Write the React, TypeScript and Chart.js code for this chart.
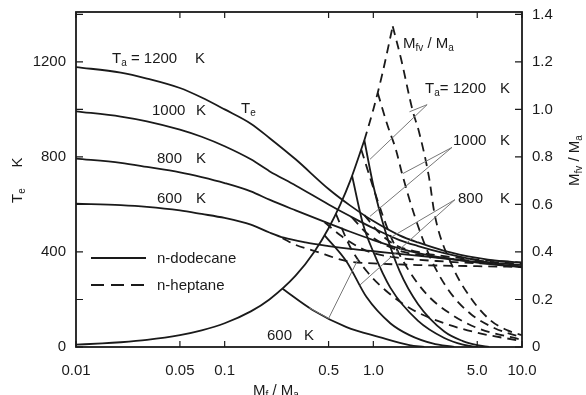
import React, { useEffect, useRef } from "react";
import { Chart, registerables } from "chart.js";
Chart.register(...registerables);

// ---- axes ----
const xTickValues = [0.01, 0.05, 0.1, 0.5, 1, 5, 10];
const xTickLabels = ["0.01", "0.05", "0.1", "0.5", "1.0", "5.0", "10.0"];
const teMarks = [0, 200, 400, 600, 800, 1000, 1200, 1400];
const teLabels = [0, 400, 800, 1200];
const mfvMarks = [0, 0.2, 0.4, 0.6, 0.8, 1.0, 1.2, 1.4];

// ---- Te, n-dodecane (solid) ----
const teDod1200 = [[0.01,1178],[0.02,1155],[0.03,1130],[0.05,1090],[0.07,1050],[0.1,1000],[0.15,940],[0.2,880],[0.3,790],[0.5,665],[0.7,595],[1,530],[1.5,470],[2,440],[3,405],[5,375],[7,362],[10,355]];
const teDod1000 = [[0.01,992],[0.02,970],[0.03,950],[0.05,915],[0.07,885],[0.1,845],[0.15,790],[0.2,740],[0.3,680],[0.5,600],[0.7,550],[1,500],[1.5,450],[2,425],[3,395],[5,365],[7,352],[10,345]];
const teDod800 = [[0.01,793],[0.02,775],[0.03,758],[0.05,735],[0.07,715],[0.1,690],[0.15,655],[0.2,620],[0.3,575],[0.5,520],[0.7,485],[1,450],[1.5,415],[2,395],[3,375],[5,355],[7,345],[10,338]];
const teDod600 = [[0.01,603],[0.02,597],[0.03,590],[0.05,575],[0.07,560],[0.1,543],[0.15,515],[0.2,482],[0.25,460],[0.35,440],[0.5,425],[0.7,413],[1,403],[1.75,388],[3,372],[5,357],[10,335]];

// ---- Te, n-heptane (dashed branches) ----
const teHep1200 = [[0.87,555],[1.1,480],[1.4,430],[2,400],[3,382],[5,368],[10,355]];
const teHep1000 = [[0.72,545],[0.9,480],[1.2,430],[1.6,400],[2.5,380],[5,362],[10,350]];
const teHep800 = [[0.47,525],[0.6,470],[0.8,420],[1,395],[1.5,375],[3,360],[10,345]];
const teHep600 = [[0.245,458],[0.3,430],[0.4,405],[0.66,362],[1,352],[2,345],[5,340],[10,337]];

// ---- Mfv/Ma: common rising branch (all fuel evaporated) ----
const mfvRiseSolid = [[0.01,0.01],[0.015,0.015],[0.02,0.02],[0.03,0.03],[0.05,0.05],[0.07,0.07],[0.1,0.1],[0.15,0.15],[0.2,0.2],[0.3,0.3],[0.4,0.4],[0.5,0.5],[0.6,0.6],[0.7,0.7],[0.87,0.87]];
const mfvRiseDashed = [[0.87,0.87],[1,1],[1.15,1.15],[1.35,1.35]];

// ---- Mfv/Ma, n-dodecane (solid) ----
const mfvDod1200 = [[0.87,0.87],[1,0.68],[1.2,0.49],[1.5,0.32],[2,0.18],[3,0.065],[4,0.025],[5,0.008],[6,0]];
const mfvDod1000 = [[0.72,0.72],[0.85,0.52],[1,0.4],[1.3,0.25],[2,0.11],[3,0.038],[4,0.01],[5,0]];
const mfvDod800 = [[0.47,0.47],[0.66,0.36],[0.9,0.21],[1.3,0.1],[1.75,0.05],[2.5,0.015],[3.5,0]];
const mfvDod600 = [[0.245,0.245],[0.39,0.156],[0.66,0.084],[1.1,0.042],[1.75,0.008],[2.2,0]];

// ---- Mfv/Ma, n-heptane (dashed) ----
const mfvHep1200 = [[1.35,1.35],[1.54,1.21],[1.83,1.0],[2.04,0.9],[2.36,0.72],[2.6,0.55],[3.4,0.34],[4.6,0.2],[6.2,0.11],[8,0.07],[10,0.05]];
const mfvHep1000 = [[1.07,1.07],[1.25,0.93],[1.42,0.83],[1.56,0.73],[1.9,0.55],[2.4,0.38],[3.2,0.24],[4.5,0.14],[6.5,0.08],[10,0.04]];
const mfvHep800 = [[0.83,0.83],[1.05,0.63],[1.3,0.47],[1.7,0.33],[2.3,0.22],[3.3,0.14],[5,0.08],[10,0.03]];
const mfvHep600 = [[0.56,0.56],[0.7,0.42],[0.9,0.32],[1.2,0.24],[1.8,0.16],[3,0.1],[5,0.06],[10,0.025]];

// ---- leader lines (x, Mfv/Ma) ----
const leaders = [
  [[2.3,1.02],[0.95,0.79]],
  [[2.3,1.02],[1.75,0.99]],
  [[3.38,0.84],[1.58,0.73]],
  [[3.38,0.84],[0.95,0.55]],
  [[3.54,0.62],[1.3,0.46]],
  [[3.54,0.62],[0.81,0.26]],
  [[0.5,0.12],[0.79,0.37]],
  [[0.5,0.12],[0.37,0.165]],
];

const FONT = "'Liberation Sans', Arial, sans-serif";
const INK = "#1a1a1a";

type Part = { t: string; sub?: boolean };
function drawRich(ctx: CanvasRenderingContext2D, parts: Part[], x: number, y: number, size: number) {
  let cx = x;
  for (const p of parts) {
    const s = p.sub ? Math.round(size * 0.68) : size;
    ctx.font = `${s}px ${FONT}`;
    ctx.fillText(p.t, cx, p.sub ? y + size * 0.22 : y);
    cx += ctx.measureText(p.t).width;
  }
}

const decorPlugin = {
  id: "decor",
  afterDatasetsDraw(chart: any) {
    const { ctx, chartArea: a, scales } = chart;
    const sx = scales.x, sy = scales.y, s2 = scales.y2;
    ctx.save();
    // leader lines
    ctx.strokeStyle = "#777";
    ctx.lineWidth = 1;
    for (const [p, q] of leaders) {
      ctx.beginPath();
      ctx.moveTo(sx.getPixelForValue(p[0]), s2.getPixelForValue(p[1]));
      ctx.lineTo(sx.getPixelForValue(q[0]), s2.getPixelForValue(q[1]));
      ctx.stroke();
    }
    // frame
    ctx.strokeStyle = INK;
    ctx.lineWidth = 1.8;
    ctx.strokeRect(a.left, a.top, a.right - a.left, a.bottom - a.top);
    // inward ticks
    ctx.lineWidth = 1.2;
    ctx.beginPath();
    for (const v of xTickValues) {
      const px = sx.getPixelForValue(v);
      ctx.moveTo(px, a.bottom); ctx.lineTo(px, a.bottom - 6);
      ctx.moveTo(px, a.top); ctx.lineTo(px, a.top + 6);
    }
    for (const v of teMarks) {
      const py = sy.getPixelForValue(v);
      ctx.moveTo(a.left, py); ctx.lineTo(a.left + 7, py);
    }
    for (const v of mfvMarks) {
      const py = s2.getPixelForValue(v);
      ctx.moveTo(a.right, py); ctx.lineTo(a.right - 7, py);
    }
    ctx.stroke();

    // legend
    ctx.lineWidth = 1.8;
    ctx.beginPath(); ctx.moveTo(91, 258); ctx.lineTo(146, 258); ctx.stroke();
    ctx.setLineDash([13, 7]);
    ctx.beginPath(); ctx.moveTo(91, 285); ctx.lineTo(146, 285); ctx.stroke();
    ctx.setLineDash([]);

    ctx.fillStyle = INK;
    ctx.textBaseline = "alphabetic";
    ctx.textAlign = "left";
    const f = 15;
    drawRich(ctx, [{ t: "n-dodecane" }], 157, 263, f);
    drawRich(ctx, [{ t: "n-heptane" }], 157, 290, f);

    // Te labels
    drawRich(ctx, [{ t: "T" }, { t: "a", sub: true }, { t: " = 1200" }], 112, 63, f);
    drawRich(ctx, [{ t: "K" }], 195, 63, f);
    drawRich(ctx, [{ t: "1000" }], 152, 115, f);
    drawRich(ctx, [{ t: "K" }], 196, 115, f);
    drawRich(ctx, [{ t: "800" }], 157, 163, f);
    drawRich(ctx, [{ t: "K" }], 196, 163, f);
    drawRich(ctx, [{ t: "600" }], 157, 203, f);
    drawRich(ctx, [{ t: "K" }], 196, 203, f);
    drawRich(ctx, [{ t: "T" }, { t: "e", sub: true }], 241, 113, f);

    // Mfv labels
    drawRich(ctx, [{ t: "M" }, { t: "fv", sub: true }, { t: " / M" }, { t: "a", sub: true }], 403, 48, f);
    drawRich(ctx, [{ t: "T" }, { t: "a", sub: true }, { t: "= 1200" }], 425, 93, f);
    drawRich(ctx, [{ t: "K" }], 500, 93, f);
    drawRich(ctx, [{ t: "1000" }], 453, 145, f);
    drawRich(ctx, [{ t: "K" }], 500, 145, f);
    drawRich(ctx, [{ t: "800" }], 458, 203, f);
    drawRich(ctx, [{ t: "K" }], 500, 203, f);
    drawRich(ctx, [{ t: "600" }], 267, 340, f);
    drawRich(ctx, [{ t: "K" }], 304, 340, f);

    // axis titles
    drawRich(ctx, [{ t: "M" }, { t: "f", sub: true }, { t: " / M" }, { t: "a", sub: true }], 253, 395, f);
    ctx.save();
    ctx.translate(22, 203);
    ctx.rotate(-Math.PI / 2);
    drawRich(ctx, [{ t: "T" }, { t: "e", sub: true }, { t: "     K" }], 0, 0, f);
    ctx.restore();
    ctx.save();
    ctx.translate(579, 186);
    ctx.rotate(-Math.PI / 2);
    drawRich(ctx, [{ t: "M" }, { t: "fv", sub: true }, { t: " / M" }, { t: "a", sub: true }], 0, 0, f);
    ctx.restore();
    ctx.restore();
  },
};

function ds(data: number[][], axis: string, dashed: boolean) {
  return {
    data: data.map(([x, y]) => ({ x, y })),
    yAxisID: axis,
    borderColor: INK,
    borderWidth: 1.8,
    borderDash: dashed ? [9, 6] : [],
    pointRadius: 0,
    fill: false,
    cubicInterpolationMode: "monotone" as const,
  };
}

const noPad = (s: any) => { s.paddingTop = 0; s.paddingBottom = 0; };

export default function App() {
  const ref = useRef<HTMLCanvasElement | null>(null);
  useEffect(() => {
    if (!ref.current) return;
    const tickFont = { family: FONT, size: 15 };
    const chart = new Chart(ref.current, {
      type: "line",
      data: {
        datasets: [
          ds(teDod1200, "y", false), ds(teDod1000, "y", false), ds(teDod800, "y", false), ds(teDod600, "y", false),
          ds(teHep1200, "y", true), ds(teHep1000, "y", true), ds(teHep800, "y", true), ds(teHep600, "y", true),
          ds(mfvRiseSolid, "y2", false), ds(mfvRiseDashed, "y2", true),
          ds(mfvDod1200, "y2", false), ds(mfvDod1000, "y2", false), ds(mfvDod800, "y2", false), ds(mfvDod600, "y2", false),
          ds(mfvHep1200, "y2", true), ds(mfvHep1000, "y2", true), ds(mfvHep800, "y2", true), ds(mfvHep600, "y2", true),
        ],
      },
      options: {
        animation: false,
        responsive: true,
        maintainAspectRatio: false,
        layout: { padding: { top: 12, left: 0, right: 0, bottom: 0 } },
        plugins: { legend: { display: false }, tooltip: { enabled: false } },
        scales: {
          x: {
            type: "logarithmic",
            min: 0.01,
            max: 10,
            position: "bottom",
            grid: { display: false, drawTicks: false },
            border: { display: false },
            afterBuildTicks: (s: any) => { s.ticks = xTickValues.map((v) => ({ value: v })); },
            afterFit: (s: any) => { s.height = 48; },
            ticks: {
              autoSkip: false,
              maxRotation: 0,
              padding: 15,
              color: INK,
              font: tickFont,
              callback: (v: any) => xTickLabels[xTickValues.indexOf(Number(v))] ?? "",
            },
          },
          y: {
            type: "linear",
            min: 0,
            max: 1410,
            position: "left",
            grid: { display: false, drawTicks: false },
            border: { display: false },
            afterBuildTicks: (s: any) => { s.ticks = teLabels.map((v) => ({ value: v })); },
            afterFit: (s: any) => { s.width = 76; noPad(s); },
            ticks: { padding: 10, color: INK, font: tickFont, callback: (v: any) => String(v) },
          },
          y2: {
            type: "linear",
            min: 0,
            max: 1.41,
            position: "right",
            grid: { display: false, drawTicks: false },
            border: { display: false },
            afterBuildTicks: (s: any) => { s.ticks = mfvMarks.map((v) => ({ value: v })); },
            afterFit: (s: any) => { s.width = 64; noPad(s); },
            ticks: {
              padding: 10,
              color: INK,
              font: tickFont,
              callback: (v: any) => (Number(v) === 0 ? "0" : Number(v).toFixed(1)),
            },
          },
        },
      },
      plugins: [decorPlugin],
    });
    return () => chart.destroy();
  }, []);
  return (
    <div style={{ position: "absolute", left: 0, top: 0, width: 586, height: 395, background: "#fff" }}>
      <canvas ref={ref} />
    </div>
  );
}
